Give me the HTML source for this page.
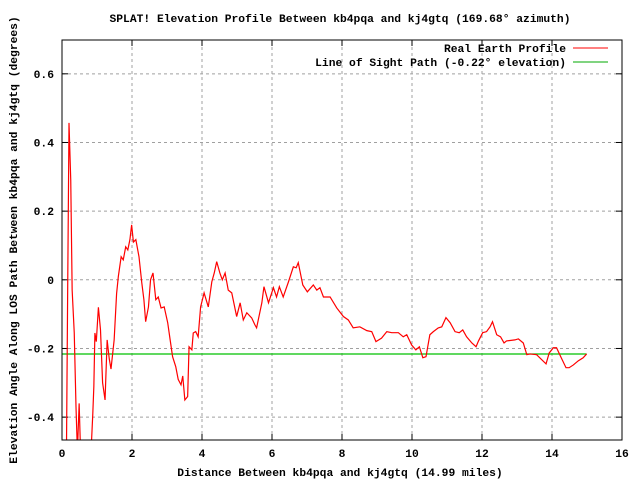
<!DOCTYPE html>
<html><head><meta charset="utf-8"><style>
html,body{margin:0;padding:0;background:#fff}
svg{display:block}
text{font-family:"Liberation Mono","DejaVu Sans Mono",monospace;font-size:11.3px;font-weight:bold;fill:#000}
</style></head><body>
<svg id="chart" width="640" height="480" viewBox="0 0 640 480" xmlns="http://www.w3.org/2000/svg">
<defs><clipPath id="plotclip"><rect x="62" y="40" width="560" height="400"/></clipPath></defs>
<text x="340" y="22" text-anchor="middle">SPLAT! Elevation Profile Between kb4pqa and kj4gtq (169.68° azimuth)</text>
<text x="340" y="476" text-anchor="middle">Distance Between kb4pqa and kj4gtq (14.99 miles)</text>
<text x="17" y="240" text-anchor="middle" transform="rotate(-90 17 240)">Elevation Angle Along LOS Path Between kb4pqa and kj4gtq (degrees)</text>
<g id="grid"></g>
<g id="ticks"></g>
<g id="series" clip-path="url(#plotclip)"></g>
<rect x="62" y="40" width="560" height="400" fill="none" stroke="#000" stroke-width="1"/>
<g>
<text x="566" y="52" text-anchor="end">Real Earth Profile</text>
<line x1="573" y1="48" x2="608" y2="48" stroke="#ff0000" stroke-width="1"/>
<text x="566" y="66" text-anchor="end">Line of Sight Path (-0.22° elevation)</text>
<line x1="573" y1="62" x2="608" y2="62" stroke="#00aa00" stroke-width="1"/>
</g>
</svg>
<script>
const xTicks = [0,2,4,6,8,10,12,14,16];
const yTicks = [-0.4,-0.2,0,0.2,0.4,0.6];
const yTickLabels = ["-0.4","-0.2","0","0.2","0.4","0.6"];
const profileX = [0.12,0.16,0.2,0.25,0.29,0.35,0.4,0.44,0.49,0.53,0.6,0.83,0.88,0.91,0.94,0.98,1.04,1.1,1.16,1.23,1.29,1.35,1.4,1.49,1.56,1.61,1.69,1.75,1.82,1.88,1.94,1.99,2.04,2.11,2.2,2.28,2.34,2.39,2.47,2.53,2.6,2.68,2.75,2.83,2.92,3.02,3.09,3.16,3.25,3.32,3.4,3.45,3.51,3.59,3.63,3.71,3.75,3.82,3.89,3.96,4.06,4.18,4.28,4.35,4.42,4.51,4.58,4.66,4.75,4.85,4.99,5.09,5.18,5.28,5.42,5.51,5.56,5.71,5.77,5.9,6.04,6.13,6.21,6.32,6.47,6.61,6.69,6.75,6.88,7.01,7.18,7.28,7.37,7.47,7.66,7.85,8.04,8.18,8.32,8.51,8.71,8.85,8.97,9.13,9.28,9.42,9.61,9.75,9.85,9.99,10.11,10.21,10.31,10.4,10.51,10.61,10.75,10.85,10.97,11.09,11.23,11.35,11.45,11.56,11.71,11.83,11.9,12.02,12.13,12.23,12.3,12.42,12.53,12.63,12.7,12.94,13.04,13.18,13.28,13.37,13.56,13.83,13.92,14.04,14.13,14.25,14.4,14.49,14.61,14.75,14.89,14.99];
const profileY = [-0.6,-0.058,0.457,0.29,-0.03,-0.155,-0.37,-0.5,-0.36,-0.5,-0.6,-0.5,-0.39,-0.31,-0.155,-0.18,-0.08,-0.146,-0.3,-0.35,-0.175,-0.23,-0.26,-0.175,-0.04,0.01,0.067,0.058,0.096,0.087,0.117,0.16,0.11,0.117,0.067,-0.009,-0.058,-0.122,-0.079,0,0.02,-0.058,-0.05,-0.082,-0.079,-0.125,-0.175,-0.224,-0.253,-0.29,-0.306,-0.28,-0.35,-0.34,-0.195,-0.204,-0.155,-0.151,-0.166,-0.079,-0.038,-0.079,-0.006,0.02,0.053,0.02,0,0.02,-0.03,-0.038,-0.107,-0.067,-0.117,-0.096,-0.111,-0.131,-0.14,-0.067,-0.02,-0.067,-0.023,-0.05,-0.02,-0.05,-0.006,0.038,0.035,0.05,-0.015,-0.035,-0.015,-0.03,-0.023,-0.05,-0.05,-0.082,-0.107,-0.117,-0.14,-0.137,-0.148,-0.151,-0.18,-0.17,-0.151,-0.154,-0.154,-0.166,-0.16,-0.19,-0.204,-0.195,-0.227,-0.224,-0.16,-0.151,-0.14,-0.137,-0.11,-0.125,-0.151,-0.154,-0.146,-0.166,-0.184,-0.195,-0.178,-0.154,-0.151,-0.137,-0.122,-0.16,-0.166,-0.184,-0.178,-0.175,-0.172,-0.184,-0.218,-0.216,-0.218,-0.245,-0.213,-0.198,-0.198,-0.224,-0.256,-0.256,-0.248,-0.236,-0.227,-0.216];
const losX = [0,14.99];
const losY = [-0.216,-0.216];

const NS = "http://www.w3.org/2000/svg";
const X0=62,X1=622,Y0=440,Y1=40, xMin=0,xMax=16,yMin=-0.4666,yMax=0.6985;
function sx(v){return X0+(v-xMin)/(xMax-xMin)*(X1-X0);}
function sy(v){return Y0-(v-yMin)/(yMax-yMin)*(Y0-Y1);}
function mk(tag,attrs,parent){const e=document.createElementNS(NS,tag);for(const k in attrs)e.setAttribute(k,attrs[k]);parent.appendChild(e);return e;}
const grid=document.getElementById('grid'),ticks=document.getElementById('ticks'),series=document.getElementById('series');
xTicks.forEach(t=>{
  const x=sx(t);
  if(t>xMin&&t<xMax){const g=mk('line',{x1:x,y1:Y0,x2:x,y2:Y1,stroke:'#a0a0a0','stroke-dasharray':'3,3'},grid);
  
  }
  const a=mk('line',{x1:x,y1:Y0,x2:x,y2:Y0-6,stroke:'#000'},ticks);
  
  
  const b=mk('line',{x1:x,y1:Y1,x2:x,y2:Y1+6,stroke:'#000'},ticks);
  
  
  const l=mk('text',{x:x,y:Y0+17,'text-anchor':'middle'},ticks);l.textContent=String(t);
  
  
});
yTicks.forEach((t,i)=>{
  const y=sy(t);
  const g=mk('line',{x1:X0,y1:y,x2:X1,y2:y,stroke:'#a0a0a0','stroke-dasharray':'3,3'},grid);
  
  
  const a=mk('line',{x1:X0,y1:y,x2:X0+6,y2:y,stroke:'#000'},ticks);
  
  
  const b=mk('line',{x1:X1,y1:y,x2:X1-6,y2:y,stroke:'#000'},ticks);
  
  
  const l=mk('text',{x:X0-8,y:y+4,'text-anchor':'end'},ticks);l.textContent=yTickLabels[i];
  
  
});
const los=mk('polyline',{points:losX.map((v,i)=>sx(v)+','+sy(losY[i])).join(' '),fill:'none',stroke:'#00c000','stroke-width':1.3},series);


const prof=mk('polyline',{points:profileX.map((v,i)=>sx(v)+','+sy(profileY[i])).join(' '),fill:'none',stroke:'#ff0000','stroke-width':1.2},series);


</script>
</body></html>
